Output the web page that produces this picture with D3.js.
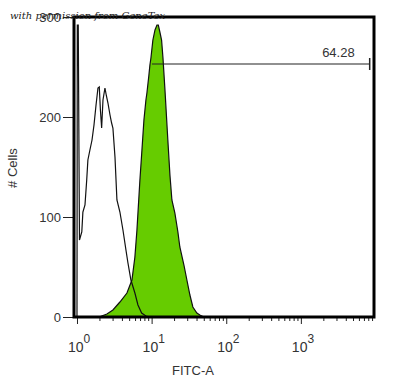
<!DOCTYPE html>
<html>
<head>
<meta charset="utf-8">
<script src="https://cdn.jsdelivr.net/npm/d3@7"></script>
<style>
  body { margin: 0; background: #fff; }
  svg { display: block; }
  .axis text { font-family: "Liberation Sans", Arial, sans-serif; font-size: 13px; fill: #333; }
  .axis path { display: none; }
  .axis line { stroke: #222; }
</style>
</head>
<body>
<svg id="chart"></svg>
<script>
// FITC values and event counts
const controlFitc = [1.00, 1.01, 1.04, 1.08, 1.16, 1.20, 1.28, 1.35, 1.40, 1.49, 1.59, 1.69, 1.80, 1.91, 1.99, 2.06, 2.14,
  2.23, 2.37, 2.48, 2.60, 2.77, 2.91, 3.03, 3.23, 3.43, 3.76, 4.13, 4.53, 4.82, 5.28, 5.97, 6.56, 7.35, 8.39, 9.49];
const controlCount = [0, 292, 292, 77, 85, 105, 112, 137, 157, 167, 177, 192, 212, 229, 230, 207, 189,
  217, 229, 221, 214, 202, 194, 189, 160, 117, 105, 87, 67, 54, 37, 24, 12, 4, 1, 0];

const stainedFitc = [1.97, 2.14, 2.52, 3.03, 3.76, 4.67, 5.45, 5.97, 6.36, 6.56, 6.97, 7.42, 7.89, 8.39, 8.65, 9.20, 9.49,
  9.79, 10.4, 11.1, 11.8, 12.3, 12.9, 13.6, 14.2, 15.1, 16.5, 17.6, 18.7, 20.5, 22.5, 23.9, 27.1, 29.7, 32.6, 35.7,
  40.4, 44.3, 50.1];
const stainedCount = [0, 1, 3, 7, 15, 24, 37, 60, 87, 104, 137, 167, 197, 217, 224, 242, 252,
  259, 277, 287, 292, 292, 285, 277, 259, 227, 177, 142, 117, 104, 85, 70, 52, 37, 22, 10,
  4, 2, 0];

const gateRange = [10.1, 8360];
const gateCount = 253;
const gateLabel = '64.28';

const yTicks = [0, 100, 200, 300];
const xDecades = [0, 1, 2, 3];

const width = 401;
const height = 379;
const margin = {top: 17, right: 27, bottom: 62, left: 74};

const svg = d3.select('#chart')
  .attr('width', width)
  .attr('height', height);

const x = d3.scaleLog()
  .domain([Math.pow(10, -0.04), Math.pow(10, 3.98)])
  .range([margin.left, width - margin.right]);

const y = d3.scaleLinear()
  .domain([0, 300])
  .range([height - margin.bottom, margin.top]);

const control = controlFitc.map((v, i) => ({v, c: controlCount[i]}));
const stained = stainedFitc.map((v, i) => ({v, c: stainedCount[i]}));

const line = d3.line()
  .x(d => x(d.v))
  .y(d => y(d.c));

const area = d3.area()
  .x(d => x(d.v))
  .y0(y(0))
  .y1(d => y(d.c));

// Axes
const minors = [];
xDecades.concat([4]).forEach(e => {
  for (let k = 2; k <= 9; k++) {
    const v = k * Math.pow(10, e);
    if (v < x.domain()[1]) minors.push(v);
  }
});

svg.append('g')
  .attr('class', 'axis')
  .attr('transform', `translate(0, ${y(0)})`)
  .call(d3.axisBottom(x).tickValues(minors).tickSize(4).tickFormat(''));

svg.append('g')
  .attr('class', 'axis')
  .attr('transform', `translate(0, ${y(0)})`)
  .call(d3.axisBottom(x).tickValues(xDecades.map(e => Math.pow(10, e))).tickSize(7).tickFormat(''));

const xLabels = svg.append('g').attr('class', 'axis');
xDecades.forEach(e => {
  const t = xLabels.append('text')
    .attr('x', x(Math.pow(10, e)) - 9)
    .attr('y', 352)
    .style('font-size', '14px');
  t.append('tspan').text('10');
  t.append('tspan').attr('dy', -9).style('font-size', '12px').text(e);
});

svg.append('g')
  .attr('class', 'axis')
  .attr('transform', `translate(${margin.left}, 0)`)
  .call(d3.axisLeft(y).tickValues(yTicks).tickSize(11).tickPadding(2))
  .selectAll('text')
  .attr('dy', '0.35em');

svg.append('text')
  .attr('class', 'axis')
  .attr('x', 193)
  .attr('y', 375)
  .attr('text-anchor', 'middle')
  .style('font-family', '"Liberation Sans", Arial, sans-serif')
  .style('font-size', '13px')
  .style('fill', '#333')
  .text('FITC-A');

svg.append('text')
  .attr('transform', 'translate(17, 168) rotate(-90)')
  .attr('text-anchor', 'middle')
  .style('font-family', '"Liberation Sans", Arial, sans-serif')
  .style('font-size', '13px')
  .style('fill', '#333')
  .text('# Cells');

// Histograms
svg.append('path')
  .datum(stained)
  .attr('d', area)
  .attr('fill', '#66cc00')
  .attr('stroke', '#111')
  .attr('stroke-width', 1.2);

svg.append('path')
  .datum(control)
  .attr('d', line)
  .attr('fill', 'none')
  .attr('stroke', '#111')
  .attr('stroke-width', 1.2);

// Gate marker
const gate = svg.append('g');
gate.append('line')
  .attr('x1', x(gateRange[0])).attr('x2', x(gateRange[1]))
  .attr('y1', y(gateCount)).attr('y2', y(gateCount))
  .attr('stroke', '#222').attr('stroke-width', 1.2);
gate.append('line')
  .attr('x1', x(gateRange[1])).attr('x2', x(gateRange[1]))
  .attr('y1', y(gateCount) - 6).attr('y2', y(gateCount) + 6)
  .attr('stroke', '#222').attr('stroke-width', 1.5);
gate.append('text')
  .attr('x', x(gateRange[1]) - 15)
  .attr('y', y(gateCount) - 7)
  .attr('text-anchor', 'end')
  .style('font-family', '"Liberation Sans", Arial, sans-serif')
  .style('font-size', '13px')
  .style('fill', '#333')
  .text(gateLabel);

// Frame
svg.append('rect')
  .attr('x', margin.left)
  .attr('y', margin.top)
  .attr('width', width - margin.left - margin.right)
  .attr('height', height - margin.top - margin.bottom)
  .attr('fill', 'none')
  .attr('stroke', '#000')
  .attr('stroke-width', 3);

// Watermark
svg.append('text')
  .attr('x', 10)
  .attr('y', 19)
  .style('font-family', '"DejaVu Serif", serif')
  .style('font-style', 'italic')
  .style('font-size', '10px')
  .style('fill', '#222')
  .text('with permission from GeneTex');
</script>
</body>
</html>
